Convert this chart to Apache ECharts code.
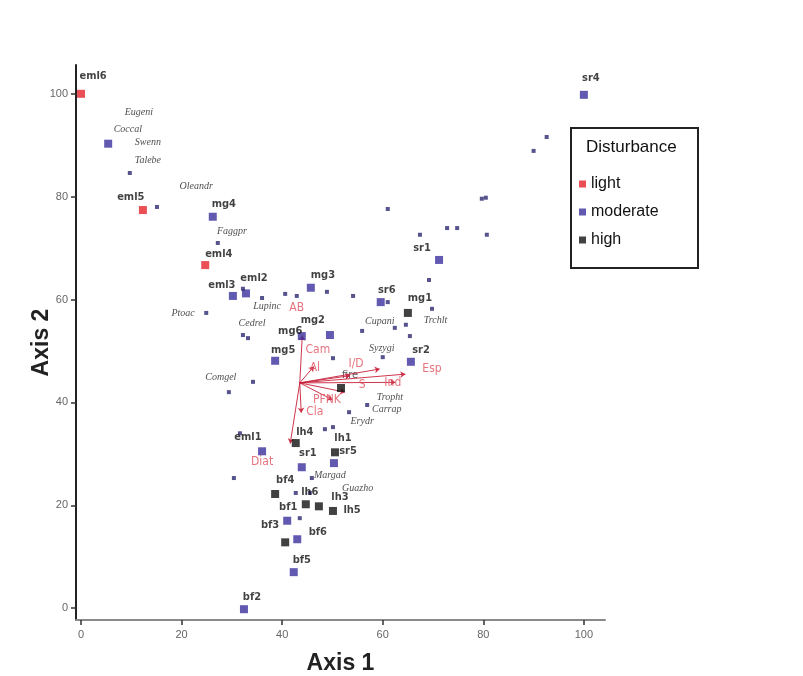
<!DOCTYPE html>
<html><head><meta charset="utf-8">
<script src="https://cdn.jsdelivr.net/npm/echarts@6/dist/echarts.min.js"></script>
<style>html,body{margin:0;padding:0;background:#fff}#c{width:803px;height:676px}</style>
</head><body><div id="c"></div>
<script>
// ---- data (Axis 1, Axis 2 scores) ----
var tickValues = [0, 20, 40, 60, 80, 100];

// sites: [x, y, label]
var sitesLight = [[0,100,'eml6'],[12.3,77.4,'eml5'],[24.7,66.7,'eml4']];
var sitesModerate = [
  [100,99.8,'sr4'],[5.4,90.3,''],[26.2,76.1,'mg4'],[30.2,60.7,'eml3'],[32.8,61.2,'eml2'],
  [45.7,62.3,'mg3'],[59.6,59.5,'sr6'],[71.2,67.7,'sr3'],[65.6,47.9,'sr2'],[49.5,53.1,'mg2'],
  [43.9,52.9,'mg6'],[38.6,48.1,'mg5'],[36,30.5,'eml1'],[50.3,28.2,'sr5'],[43.9,27.4,'sr1'],
  [41,17,''],[43,13.4,'bf6'],[42.3,7,'bf5'],[32.4,-0.2,'bf2']
];
var sitesHigh = [
  [65,57.4,'mg1'],[42.7,32.1,'lh4'],[50.5,30.3,'lh1'],[38.6,22.2,'bf4'],[44.7,20.2,'bf1'],
  [47.3,19.8,'lh3'],[50.1,18.9,'lh5'],[40.6,12.8,'bf3'],[51.7,42.8,'lh2']
];
// site label positions: [x, y, text]
var siteLabels = [
  [2.4,103.5,'eml6'],[9.9,80,'eml5'],[27.4,68.9,'eml4'],[28.4,78.6,'mg4'],[101.4,103.1,'sr4'],
  [28,62.8,'eml3'],[34.4,64.2,'eml2'],[48.1,64.8,'mg3'],[60.8,61.9,'sr6'],[67.4,60.3,'mg1'],
  [67.8,70,'sr1'],[67.6,50.2,'sr2'],[46.1,56,'mg2'],[41.6,53.9,'mg6'],[40.2,50.2,'mg5'],
  [33.2,33.3,'eml1'],[44.5,34.2,'lh4'],[52.1,33.1,'lh1'],[53.1,30.5,'sr5'],[45.1,30.2,'sr1'],
  [40.6,24.9,'bf4'],[45.5,22.6,'lh6'],[41.2,19.6,'bf1'],[51.5,21.6,'lh3'],[53.9,19.1,'lh5'],
  [37.6,16.1,'bf3'],[47.1,14.8,'bf6'],[43.9,9.3,'bf5'],[34,2.1,'bf2']
];

// species scores
var species = [
  [9.7,84.6],[15.1,78],[27.2,71],[24.9,57.4],[32.2,62.1],[36,60.3],[40.6,61.1],[42.9,60.7],
  [48.9,61.5],[54.1,60.7],[61,59.5],[32.2,53.1],[33.2,52.5],[29.4,42],[34.2,44],[55.9,53.9],
  [62.4,54.5],[64.6,55.1],[65.4,52.9],[69.8,58.2],[60,48.8],[50.1,48.6],[56.9,39.5],[53.3,38.1],
  [48.5,34.8],[50.1,35.2],[31.6,34],[30.4,25.3],[42.7,22.4],[45.5,22.4],[45.9,25.3],[43.5,17.5],
  [61,77.6],[67.4,72.6],[72.8,73.9],[74.8,73.9],[79.7,79.6],[80.5,79.8],[80.7,72.6],[69.2,63.8],
  [90,88.9],[92.6,91.6]
];
var speciesLabels = [
  [11.5,96.3,'Eugeni'],[9.3,93,'Coccal'],[13.3,90.5,'Swenn'],[13.3,87,'Talebe'],[22.9,82.1,'Oleandr'],
  [30,73.2,'Faggpr'],[20.3,57.4,'Ptoac'],[37,58.6,'Lupinc'],[34,55.4,'Cedrel'],[27.8,44.9,'Comgel'],
  [59.4,55.8,'Cupani'],[59.8,50.6,'Syzygi'],[70.5,56,'Trchlt'],[61.4,40.9,'Tropht'],[60.8,38.7,'Carrap'],
  [55.9,36.4,'Erydr'],[49.5,25.9,'Margad'],[55,23.3,'Guazho']
];

// environmental vectors: origin and tips
var vecOrigin = [43.5, 43.8];
var vecTips = [
  [44,53],[46.3,47],[59.4,46.5],[53.5,45.2],[62.5,43.9],[64.5,45.5],[52.5,42],[50,40.5],[43.8,38],[41.6,32]
];
var vecLabels = [
  [42.9,58.4,'AB'],[47.1,50.2,'Cam'],[46.5,46.7,'Al'],[54.7,47.5,'I/D'],[62,43.8,'Ind'],
  [69.8,46.5,'Esp'],[55.9,43.4,'S'],[48.9,40.5,'PFNK'],[46.5,38.1,'Cla'],[36,28.4,'Diat']
];
var fireLabel = [[53.5,45.3,'fire']];

var RED = '#e4232b', BLUE = '#3b2f9e', BLACK = '#111111';

function pts(a){ return a.map(function(d){ return [d[0], d[1]]; }); }
function labs(a){ return a.map(function(d){ return {value:[d[0], d[1]], name:d[2]}; }); }

var chart = echarts.init(document.getElementById('c'), null, {renderer:'canvas'});
var option = {
  backgroundColor:'#fff',
  animation:false,
  grid:{left:76, top:65, right:198, bottom:56, containLabel:false, outerBoundsMode:'none'},
  xAxis:{
    type:'value', min:-1, max:104.2,
    name:'Axis 1', nameLocation:'middle', nameGap:32, nameMoveOverlap:false,
    nameTextStyle:{fontFamily:'Liberation Sans', fontWeight:'bold', fontSize:23, color:'#222'},
    axisLine:{show:true, onZero:false, lineStyle:{color:'#8a8a8a', width:2}},
    axisTick:{show:true, length:5, customValues:tickValues, lineStyle:{color:'#333', width:1.5}},
    axisLabel:{customValues:tickValues, color:'#666', fontSize:11, fontFamily:'Liberation Sans', margin:9},
    splitLine:{show:false}
  },
  yAxis:{
    type:'value', min:-2.3, max:105.6,
    name:'Axis 2', nameLocation:'middle', nameGap:23, nameRotate:90, nameMoveOverlap:false,
    nameTextStyle:{fontFamily:'Liberation Sans', fontWeight:'bold', fontSize:23, color:'#222'},
    axisLine:{show:true, onZero:false, lineStyle:{color:'#222', width:2}},
    axisTick:{show:true, length:5, customValues:tickValues, lineStyle:{color:'#333', width:1.5}},
    axisLabel:{customValues:tickValues, color:'#666', fontSize:11, fontFamily:'Liberation Sans', margin:8},
    splitLine:{show:false}
  },
  legend:{
    data:['light','moderate','high'], orient:'vertical', left:574, top:171, itemGap:12,
    icon:'rect', itemWidth:7, itemHeight:7, selectedMode:false,
    textStyle:{fontSize:16, fontFamily:'Liberation Sans', color:'#111'}
  },
  graphic:[
    {type:'rect', left:570, top:127, shape:{width:127, height:140}, style:{fill:'#fff', stroke:'#222', lineWidth:2}, z:-1},
    {type:'text', left:586, top:139, style:{text:'Disturbance', fontSize:17, fontFamily:'Liberation Sans', fill:'#111'}}
  ],
  series:[
    {type:'lines', coordinateSystem:'cartesian2d', silent:true, z:3,
     data: vecTips.map(function(t){ return {coords:[vecOrigin, t]}; }),
     symbol:['none','arrow'], symbolSize:5,
     lineStyle:{color:'#c8203a', width:1, opacity:0.9}},
    {name:'light', type:'scatter', symbol:'rect', symbolSize:8, itemStyle:{color:RED}, data:pts(sitesLight), z:4},
    {name:'moderate', type:'scatter', symbol:'rect', symbolSize:8, itemStyle:{color:BLUE}, data:pts(sitesModerate), z:4},
    {name:'high', type:'scatter', symbol:'rect', symbolSize:8, itemStyle:{color:BLACK}, data:pts(sitesHigh), z:4},
    {name:'species', type:'scatter', symbol:'rect', symbolSize:4, itemStyle:{color:'#2c2870'}, data:species, z:4},
    {name:'siteLabels', type:'scatter', symbolSize:0, silent:true, data:labs(siteLabels), z:5,
     label:{show:true, position:'inside', formatter:'{b}', color:'#111', fontSize:11, fontWeight:'bold', fontFamily:'DejaVu Sans Condensed'}},
    {name:'speciesLabels', type:'scatter', symbolSize:0, silent:true, data:labs(speciesLabels), z:5,
     label:{show:true, position:'inside', formatter:'{b}', color:'#222', fontSize:10, fontStyle:'italic', fontFamily:'Liberation Serif'}},
    {name:'vecLabels', type:'scatter', symbolSize:0, silent:true, data:labs(vecLabels), z:5,
     label:{show:true, position:'inside', formatter:'{b}', color:'#e0505e', fontSize:12, fontFamily:'DejaVu Sans Condensed'}},
    {name:'fireLabel', type:'scatter', symbolSize:0, silent:true, data:labs(fireLabel), z:2,
     label:{show:true, position:'inside', formatter:'{b}', color:'#333', fontSize:11, fontFamily:'DejaVu Sans Condensed'}}
  ]
};
chart.setOption(option);
</script></body></html>
